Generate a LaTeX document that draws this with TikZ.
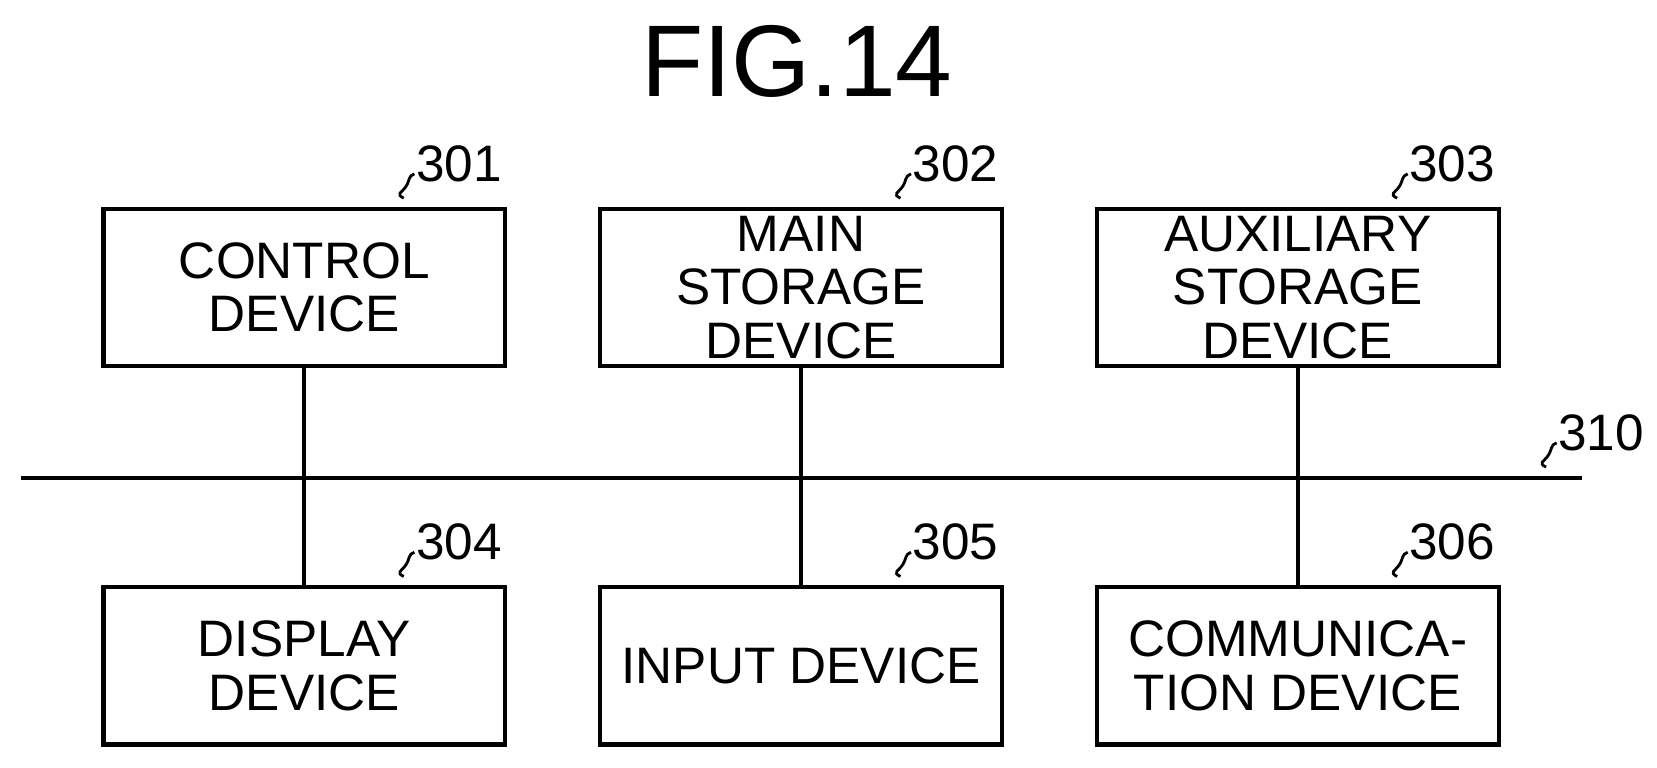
\documentclass[tikz,border=0pt]{standalone}
\usepackage{fontspec}
\setmainfont{Liberation Sans}
\usetikzlibrary{positioning}
\tikzset{
  unit/.style={draw=black, very thick, minimum width=4.02cm, minimum height=1.575cm,
    align=center, font=\fontsize{14.6}{15.2}\selectfont, inner sep=0pt},
  bus/.style={draw, very thick},
  ref/.style={font=\fontsize{14.6}{15}\selectfont, anchor=south west, inner sep=0pt}
}
\newcommand{\squig}[4]{% node, offset, label
  \draw[thick] (#1) ++(#2) coordinate (s#4)
    .. controls +(-8,-4) and +(-4,6) .. ++(2,-11)
    .. controls +(4,-6) and +(-6,2) .. ++(8,-12) coordinate (t#4);
  \node[ref] at ([shift={(1,8)}]t#4) {#3};}
\begin{document}
\begin{tikzpicture}[x=0.01057cm, y=-0.01057cm]
  \useasboundingbox (0,0) rectangle (1568,726);
  \node[font=\fontsize{29}{29}\selectfont] (title) at (754,58) {FIG.14};

  \node[unit] (ctrl) at (288,272) {CONTROL\\DEVICE};
  \node[unit] (main) at (758,272) {MAIN\\STORAGE\\DEVICE};
  \node[unit] (aux)  at (1228,272) {AUXILIARY\\STORAGE\\DEVICE};
  \node[unit] (disp) at (288,630) {DISPLAY\\DEVICE};
  \node[unit] (inp)  at (758,630) {INPUT DEVICE};
  \node[unit] (comm) at (1228,630) {COMMUNICA-\\TION DEVICE};

  \coordinate (busL) at (20,452);
  \coordinate (busR) at (1497,452);
  \draw[bus] (busL) -- (busR);
  \draw[bus] (ctrl) -- (disp);
  \draw[bus] (main) -- (inp);
  \draw[bus] (aux) -- (comm);

  \squig{ctrl.north east}{-98,-8}{301}{a}
  \squig{main.north east}{-98,-8}{302}{b}
  \squig{aux.north east}{-98,-8}{303}{c}
  \squig{disp.north east}{-98,-8}{304}{d}
  \squig{inp.north east}{-98,-8}{305}{e}
  \squig{comm.north east}{-98,-8}{306}{f}
  \squig{busR}{-34,-10}{310}{g}
\end{tikzpicture}
\end{document}
